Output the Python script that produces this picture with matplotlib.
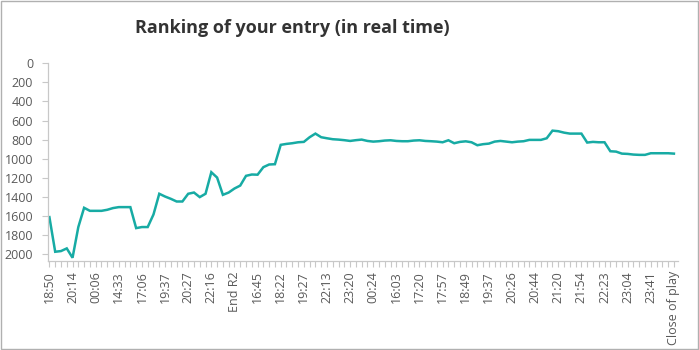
import matplotlib
matplotlib.use("Agg")
import matplotlib.pyplot as plt
from matplotlib.patches import Rectangle
from matplotlib.ticker import FixedLocator, MultipleLocator

# rank after each update (lower is better)
ranks = [
    1613, 1976, 1969, 1941, 2039, 1717, 1515, 1547, 1547, 1547,
    1536, 1518, 1508, 1508, 1508, 1728, 1717, 1717, 1585, 1368,
    1397, 1421, 1449, 1449, 1368, 1355, 1403, 1368, 1142, 1198,
    1379, 1355, 1313, 1282, 1180, 1166, 1168, 1089, 1061, 1058,
    855, 845, 838, 828, 824, 775, 737, 775, 786, 796,
    800, 806, 814, 806, 800, 814, 821, 817, 810, 807,
    814, 817, 817, 810, 807, 814, 817, 821, 828, 807,
    838, 824, 818, 828, 859, 848, 842, 821, 814, 821,
    828, 821, 817, 803, 803, 803, 786, 706, 712, 727,
    737, 737, 737, 831, 824, 828, 828, 922, 926, 947,
    950, 957, 960, 960, 943, 943, 943, 943, 947,
]

# every 4th update gets a label on the time axis
time_labels = [
    "18:50", "20:14", "00:06", "14:33", "17:06", "19:37", "20:27",
    "22:16", "End R2", "16:45", "18:22", "19:27", "22:13", "23:20",
    "00:24", "16:03", "17:20", "17:57", "18:49", "19:37", "20:26",
    "20:44", "21:20", "21:54", "22:23", "23:04", "23:41", "Close of play",
]

plt.rcParams["font.family"] = ["Open Sans", "DejaVu Sans"]

fig = plt.figure(figsize=(6.99, 3.5), dpi=100)
ax = fig.add_axes([0.0682, 0.2551, 0.9013, 0.5640])

x = list(range(len(ranks)))
ax.plot(x, ranks, color="#17ABA4", linewidth=1.8, solid_joinstyle="miter")

ax.set_ylim(2070, 0)
ax.set_yticks(range(0, 2001, 200))
ax.set_xlim(-0.3, len(ranks) - 0.35)

major = list(range(0, len(ranks), 4))
ax.xaxis.set_major_locator(FixedLocator(major))
ax.xaxis.set_minor_locator(MultipleLocator(1))
ax.set_xticklabels(time_labels, rotation=90)

axis_grey = "#c8c8c8"
for side in ["top", "right"]:
    ax.spines[side].set_visible(False)
for side in ["left", "bottom"]:
    ax.spines[side].set_color(axis_grey)
    ax.spines[side].set_linewidth(0.9)

ax.tick_params(axis="both", which="both", color=axis_grey, length=4.5,
               width=0.8, labelcolor="#595959", labelsize=9)
ax.tick_params(axis="y", pad=6)
ax.tick_params(axis="x", pad=3)

fig.text(0.418, 0.921, "Ranking of your entry (in real time)", ha="center",
         va="center", fontsize=13, fontweight="bold", color="#333333")

# thin frame round the whole chart
fig.patches.append(Rectangle((0.001, 0.002), 0.997, 0.995, transform=fig.transFigure,
                             fill=False, edgecolor="#b0b0b0", linewidth=1.0))

fig.savefig("out.png", dpi=100)
